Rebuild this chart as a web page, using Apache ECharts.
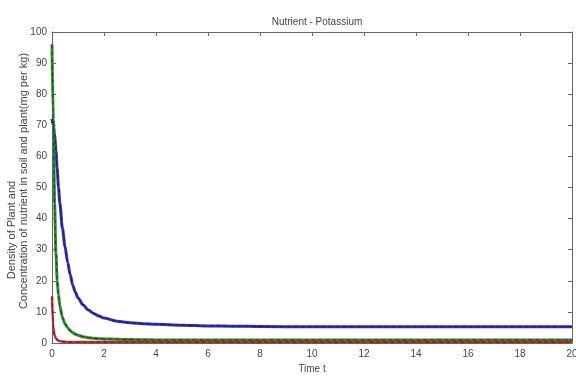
<!DOCTYPE html>
<html>
<head>
<meta charset="utf-8">
<script src="https://cdn.jsdelivr.net/npm/echarts@6/dist/echarts.min.js"></script>
<style>html,body{margin:0;padding:0;background:#fff;}#c{width:576px;height:376px;}</style>
</head>
<body>
<div id="c"></div>
<script>
const title = 'Nutrient - Potassium';
const xName = 'Time t';
const yNameLine1 = 'Density of Plant and';
const yNameLine2 = 'Concentration of nutrient in soil and plant(mg per kg)';
const times = [0,0.05,0.1,0.15,0.2,0.25,0.3,0.4,0.5,0.6,0.7,0.8,0.9,1,1.2,1.4,1.6,1.8,2,2.5,3,3.5,4,5,6,7,8,10,12,14,16,18,20];
const blueVals = [72,70,67,62,56,50,45,37,31,26,22,18.5,16.3,14.5,12.2,10.6,9.5,8.7,8.0,7.0,6.5,6.2,6.0,5.7,5.5,5.4,5.3,5.2,5.2,5.2,5.2,5.2,5.2];
const greenVals = [96,72,45,29,20,15.5,12,8.2,6.2,4.9,4.0,3.3,2.8,2.5,2.0,1.7,1.5,1.4,1.3,1.2,1.1,1.05,1.0,1.0,1.0,1.0,1.0,1.0,1.0,1.0,1.0,1.0,1.0];
const redVals = [15,5,2.4,1.5,1.0,0.8,0.6,0.45,0.4,0.3,0.3,0.3,0.3,0.3,0.3,0.3,0.3,0.3,0.3,0.3,0.3,0.3,0.3,0.3,0.3,0.3,0.3,0.3,0.3,0.3,0.3,0.3,0.3];
const xTicks = {min:0, max:20, interval:2};
const yTicks = {min:0, max:100, interval:10};

const pair = v => times.map((t,i)=>[t,v[i]]);
const chart = echarts.init(document.getElementById('c'));
const axisCommon = {
  axisLine:{show:true,onZero:false,lineStyle:{color:'#666',width:1}},
  axisTick:{show:true,inside:true,length:4,lineStyle:{color:'#666'}},
  splitLine:{show:false}
};
function line(vals,color,width,dash,z){
  return {type:'line',data:pair(vals),showSymbol:false,smooth:0.3,smoothMonotone:'x',z:z,
    lineStyle:{color:color,width:width,type:dash||'solid'},xAxisIndex:0,yAxisIndex:0};
}
const ff = 'Liberation Sans, Arial, sans-serif';
chart.setOption({
  animation:false,
  textStyle:{fontFamily:ff},
  title:{text:title,left:312,top:12,textAlign:'center',textStyle:{fontSize:10,fontWeight:'normal',color:'#444'}},
  grid:{left:52,right:4,top:32,bottom:33,show:false,containLabel:false,outerBoundsMode:'none'},
  graphic:[
    {type:'text',x:12,y:230,rotation:Math.PI/2,style:{text:yNameLine1,fontSize:11,fill:'#444',textAlign:'center',textVerticalAlign:'middle',fontFamily:ff}},
    {type:'text',x:24,y:181,rotation:Math.PI/2,style:{text:yNameLine2,fontSize:11,fill:'#444',textAlign:'center',textVerticalAlign:'middle',fontFamily:ff}}
  ],
  xAxis:[
    Object.assign({type:'value',position:'bottom',min:xTicks.min,max:xTicks.max,interval:xTicks.interval,
      name:xName,nameLocation:'middle',nameGap:20,nameTextStyle:{fontSize:10,color:'#444'},
      axisLabel:{fontSize:10,color:'#444',margin:6}},axisCommon),
    Object.assign({type:'value',position:'top',min:xTicks.min,max:xTicks.max,interval:xTicks.interval,
      axisLabel:{show:false}},axisCommon)
  ],
  yAxis:[
    Object.assign({type:'value',position:'left',min:yTicks.min,max:yTicks.max,interval:yTicks.interval,
      axisLabel:{fontSize:10,color:'#444',margin:5}},axisCommon),
    Object.assign({type:'value',position:'right',min:yTicks.min,max:yTicks.max,interval:yTicks.interval,
      axisLabel:{show:false}},axisCommon)
  ],
  series:[
    line(blueVals,'#2a2fc0',3,'solid',2),
    line(blueVals,'#1a1a50',1,[4,3],3),
    line(greenVals,'#2e8b2e',3,'solid',2),
    line(greenVals,'#1f3a1f',1,[4,3],3),
    line(redVals,'#c83030',2.5,'solid',2),
    line(redVals,'#5a1a1a',1,[4,3],3)
  ]
});
</script>
</body>
</html>
